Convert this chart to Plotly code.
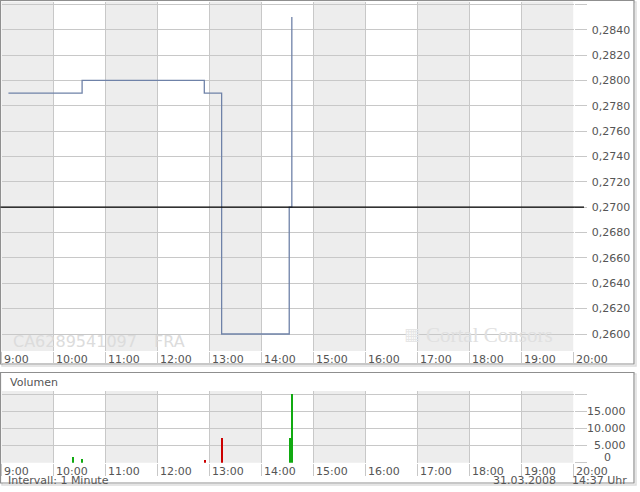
import plotly.graph_objects as go

W, H = 640, 492
def px(x): return x / W
def py(y): return 1 - y / H

DAY = "2008-03-31 "

# ---- data ----
price_times = ["09:08", "10:33", "12:54", "13:14", "14:32", "14:35"]
price_values = [0.2790, 0.2800, 0.2790, 0.2600, 0.2700, 0.2850]
prev_close = 0.2700

volume_times = ["10:22", "10:33", "12:54", "13:14", "14:32", "14:35"]
volume_values = [1750, 1100, 800, 7300, 7300, 20100]
volume_dir = ["up", "up", "down", "down", "up", "up"]

hour_ticks = ["09:00", "10:00", "11:00", "12:00", "13:00", "14:00", "15:00",
              "16:00", "17:00", "18:00", "19:00", "20:00"]
hour_labels = ["9:00", "10:00", "11:00", "12:00", "13:00", "14:00", "15:00",
               "16:00", "17:00", "18:00", "19:00", "20:00"]
price_ticks = [0.2600, 0.2620, 0.2640, 0.2660, 0.2680, 0.2700, 0.2720,
               0.2740, 0.2760, 0.2780, 0.2800, 0.2820, 0.2840, 0.2860]
price_labels = ["0,2600", "0,2620", "0,2640", "0,2660", "0,2680", "0,2700", "0,2720",
                "0,2740", "0,2760", "0,2780", "0,2800", "0,2820", "0,2840", ""]
volume_ticks = [0, 5000, 10000, 15000, 20000]
volume_labels = ["0", "5.000", "10.000", "15.000", ""]

isin_text = "CA6289541097"
exchange_text = "FRA"
panel_title = "Volumen"
interval_text = "Intervall: 1 Minute"
date_text = "31.03.2008"
time_text = "14:37 Uhr"

# ---- styles ----
FONT = "DejaVu Sans, Verdana, sans-serif"
TXT = "#555555"
GRID = "#c8c8c8"
BAND = "#ededed"
LINE = "#6f82a8"
UP, DOWN = "#11aa11", "#cc0000"

xt = [DAY + t for t in price_times]
vt = [DAY + t for t in volume_times]
hours = [DAY + t for t in hour_ticks]

fig = go.Figure()
fig.add_trace(go.Scatter(x=xt, y=price_values, mode="lines", line=dict(color=LINE, width=1.3, shape="hv"),
                         xaxis="x", yaxis="y", hoverinfo="skip", showlegend=False))
fig.add_trace(go.Bar(x=vt, y=volume_values, width=90000,
                     marker=dict(color=[UP if d == "up" else DOWN for d in volume_dir], line=dict(width=0)),
                     xaxis="x2", yaxis="y2", hoverinfo="skip", showlegend=False))

xdom = [px(1.5), px(573.5)]
common_x = dict(domain=xdom, range=[hours[0], hours[-1]], tickvals=hours, ticktext=hour_labels,
                showgrid=True, gridcolor=GRID, gridwidth=1, ticks="outside", ticklen=12, tickcolor=GRID,
                tickwidth=1, ticklabelposition="outside right", ticklabelshift=2, ticklabelstandoff=-2,
                tickfont=dict(family=FONT, size=11, color=TXT), showline=False, zeroline=False,
                fixedrange=True, automargin=False)

shapes = []
# panel frames (shadow + border)
for (x0, y0, x1, y1) in [(0, 0, 634, 364), (0, 372, 634, 483)]:
    shapes.append(dict(type="rect", xref="paper", yref="paper", x0=px(x0 + 2), x1=px(x1 + 2),
                       y0=py(y1 + 2), y1=py(y0 + 2), line=dict(color="#dddddd", width=1.5), layer="below"))
    shapes.append(dict(type="rect", xref="paper", yref="paper", x0=px(x0 + 0.5), x1=px(x1),
                       y0=py(y1), y1=py(y0 + 0.5), fillcolor="white", line=dict(color="#8f8f8f", width=1.2),
                       layer="below"))
# alternating hour bands
for i in range(0, len(hours) - 1, 2):
    for xr, yr in [("x", "y domain"), ("x2", "y2 domain")]:
        shapes.append(dict(type="rect", xref=xr, yref=yr, x0=hours[i], x1=hours[i + 1], y0=0, y1=1,
                           fillcolor=BAND, line=dict(width=0), layer="below"))
# previous close line
shapes.append(dict(type="line", xref="paper", yref="y", x0=px(0.5), x1=px(584), y0=prev_close, y1=prev_close,
                   line=dict(color="#000000", width=1.2), layer="above"))

ann = []
ann.append(dict(text=isin_text, xref="paper", yref="paper", x=px(11), y=py(341), xanchor="left", yanchor="middle",
                showarrow=False, font=dict(family=FONT, size=16, color="#dcdcdc")))
ann.append(dict(text=exchange_text, xref="paper", yref="paper", x=px(152), y=py(341), xanchor="left",
                yanchor="middle", showarrow=False, font=dict(family=FONT, size=16, color="#dcdcdc")))
ann.append(dict(text="Cortal Consors", xref="paper", yref="paper", x=px(424), y=py(335), xanchor="left",
                yanchor="middle", showarrow=False, font=dict(family="Liberation Serif, serif", size=21, color="#e0e0e0")))
ann.append(dict(text="▦", xref="paper", yref="paper", x=px(402), y=py(334), xanchor="left",
                yanchor="middle", showarrow=False, font=dict(family=FONT, size=17, color="#e6e6e6")))
ann.append(dict(text=panel_title, xref="paper", yref="paper", x=px(8), y=py(382), xanchor="left", yanchor="middle",
                showarrow=False, font=dict(family=FONT, size=11, color=TXT)))
ann.append(dict(text=interval_text, xref="paper", yref="paper", x=px(6), y=py(480), xanchor="left",
                yanchor="middle", showarrow=False, font=dict(family=FONT, size=11, color=TXT)))
ann.append(dict(text=date_text, xref="paper", yref="paper", x=px(558), y=py(480), xanchor="right",
                yanchor="middle", showarrow=False, font=dict(family=FONT, size=11, color=TXT)))
ann.append(dict(text=time_text, xref="paper", yref="paper", x=px(629), y=py(480), xanchor="right",
                yanchor="middle", showarrow=False, font=dict(family=FONT, size=11, color=TXT)))
# volume axis labels (right aligned)
for v, lab in zip(volume_ticks, volume_labels):
    if not lab:
        continue
    if v == 0:
        ann.append(dict(text=lab, xref="paper", yref="y2", x=px(613), y=v, xanchor="right", yanchor="bottom",
                        yshift=-3, showarrow=False, font=dict(family=FONT, size=11, color=TXT)))
    else:
        ann.append(dict(text=lab, xref="paper", yref="y2", x=px(628), y=v, xanchor="right", yanchor="middle",
                        showarrow=False, font=dict(family=FONT, size=11, color=TXT)))

fig.update_layout(
    width=W, height=H, autosize=False, margin=dict(l=0, r=0, t=0, b=0, pad=0),
    paper_bgcolor="white", plot_bgcolor="rgba(0,0,0,0)", separators=",.",
    font=dict(family=FONT, size=11, color=TXT), showlegend=False, bargap=0,
    xaxis=dict(anchor="y", **common_x),
    xaxis2=dict(anchor="y2", **common_x),
    yaxis=dict(domain=[py(351), py(1.5)], range=[0.25866, 0.28622], side="right", anchor="x",
               tickvals=price_ticks, ticktext=price_labels, showgrid=True, gridcolor=GRID, gridwidth=1,
               ticks="outside", ticklen=12, tickcolor=GRID, ticklabelstandoff=3, automargin=False,
               tickfont=dict(family=FONT, size=11, color=TXT), zeroline=False, showline=False, fixedrange=True),
    yaxis2=dict(domain=[py(462.8), py(391)], range=[0, 20960], side="right", anchor="x2",
                tickvals=volume_ticks, showticklabels=False, showgrid=True, gridcolor=GRID, gridwidth=1,
                ticks="outside", ticklen=12, tickcolor=GRID, zeroline=False, showline=False, fixedrange=True,
                automargin=False),
    shapes=shapes, annotations=ann,
)

post = ("document.body.style.margin='0';document.body.style.padding='0';"
        "document.body.style.overflow='hidden';"
        "var gd=document.getElementById('{plot_id}');"
        "Plotly.relayout(gd,{width:640,height:492});")
fig.write_html("out.html", config={"displayModeBar": False, "responsive": False}, post_script=post)
